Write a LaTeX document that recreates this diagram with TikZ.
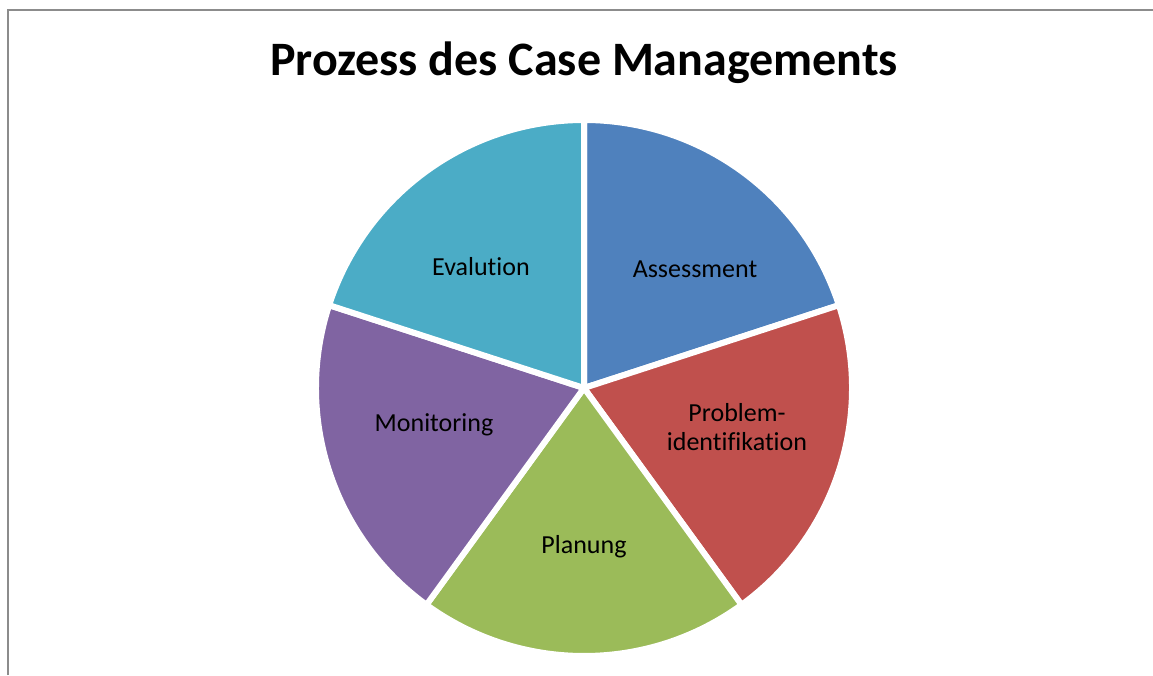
\documentclass[tikz,border=0pt]{standalone}
\usepackage{fontspec}
\setmainfont[Ligatures=NoCommon]{Carlito}
\definecolor{assess}{HTML}{4F81BD}
\definecolor{problem}{HTML}{C0504D}
\definecolor{plan}{HTML}{9BBB59}
\definecolor{monitor}{HTML}{8064A2}
\definecolor{eval}{HTML}{4BACC6}
\definecolor{frame}{HTML}{8C8C8C}

\begin{document}
\begin{tikzpicture}[x=1pt,y=1pt,
    slice/.style={draw=white, line width=6pt, line join=round},
    slicelabel/.style={font=\fontsize{26}{29}\selectfont, align=center, text=black}]
      \useasboundingbox (0,0) rectangle (1153,675);
      % chart frame (only top and left edge visible)
      \draw[frame, line width=2pt] (8,0) -- (8,665) -- (1153,665);

      % title
      \node (title) at (584,612) {\fontsize{48}{56}\bfseries Prozess des Case Managements};

      % slices
      \coordinate (centre) at (584,287);
      \def\rad{268}
      \fill[assess, slice]  (centre) -- ++(90:\rad) arc (90:18:\rad) -- cycle;
      \fill[problem, slice] (centre) -- ++(18:\rad) arc (18:-54:\rad) -- cycle;
      \fill[plan, slice]    (centre) -- ++(-54:\rad) arc (-54:-126:\rad) -- cycle;
      \fill[monitor, slice] (centre) -- ++(-126:\rad) arc (-126:-198:\rad) -- cycle;
      \fill[eval, slice]    (centre) -- ++(162:\rad) arc (162:90:\rad) -- cycle;

      % labels
      \node[slicelabel] (assessment) at (695,406) {Assessment};
      \node[slicelabel] (problemid) at (737,248) {Problem-\\identifikation};
      \node[slicelabel] (planung) at (584,128) {Planung};
      \node[slicelabel] (monitoring) at (434,250) {Monitoring};
      \node[slicelabel] (evalution) at (481,408) {Evalution};
    \end{tikzpicture}
\end{document}
